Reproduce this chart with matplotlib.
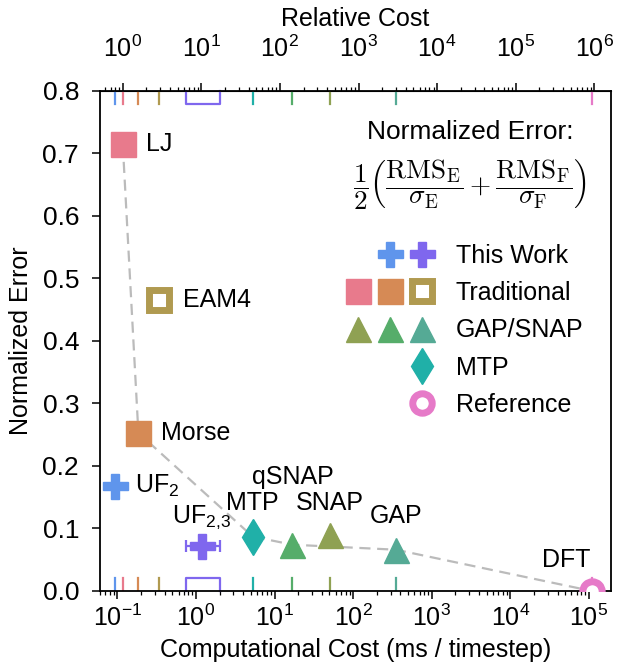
import matplotlib
matplotlib.use('Agg')
import numpy as np
import matplotlib.pyplot as plt
from matplotlib.lines import Line2D
from matplotlib.legend_handler import HandlerTuple
from matplotlib.ticker import FixedLocator, LogFormatterSciNotation, NullFormatter

plt.rcParams['font.family'] = ['Liberation Sans', 'DejaVu Sans']
plt.rcParams['mathtext.fontset'] = 'custom'
plt.rcParams['mathtext.rm'] = 'Liberation Sans'
plt.rcParams['mathtext.it'] = 'Liberation Sans:italic'
plt.rcParams['mathtext.bf'] = 'Liberation Sans:bold'

# ---------------- data ----------------
methods = ['UF2', 'UF23', 'LJ', 'Morse', 'EAM4', 'SNAP', 'qSNAP', 'GAP', 'MTP', 'DFT']
labels = [r'UF$_\mathrm{2}$', r'UF$_\mathrm{2{,}3}$', 'LJ', 'Morse', 'EAM4',
          'SNAP', 'qSNAP', 'GAP', 'MTP', 'DFT']
cost = [0.094, 1.18, 0.117, 0.185, 0.34, 50.7, 16.9, 350.0, 5.27, 1.08e5]
error = [0.168, 0.072, 0.715, 0.253, 0.466, 0.090, 0.074, 0.066, 0.087, 0.0]
uf23_cost_range = [0.755, 2.0]
pareto = ['LJ', 'Morse', 'MTP', 'qSNAP', 'GAP', 'DFT']
reference_method = 'LJ'

cost_decades = [1e-1, 1e0, 1e1, 1e2, 1e3, 1e4, 1e5]
rel_decades = [1e0, 1e1, 1e2, 1e3, 1e4, 1e5, 1e6]
error_ticks = [0.0, 0.1, 0.2, 0.3, 0.4, 0.5, 0.6, 0.7, 0.8]

legend_labels = ['This Work', 'Traditional', 'GAP/SNAP', 'MTP', 'Reference']
legend_groups = [['UF2', 'UF23'], ['LJ', 'Morse', 'EAM4'], ['SNAP', 'qSNAP', 'GAP'], ['MTP'], ['DFT']]

# ---------------- styles ----------------
colors = {'UF2': '#5f95ec', 'UF23': '#7f67ee', 'LJ': '#e87a8c', 'Morse': '#d68a55',
          'EAM4': '#b09a50', 'SNAP': '#8fa153', 'qSNAP': '#56ad6a', 'GAP': '#55aa95',
          'MTP': '#20b0a8', 'DFT': '#e67ac8'}
markers = {'UF2': 'P', 'UF23': 'P', 'LJ': 's', 'Morse': 's', 'EAM4': 's',
           'SNAP': '^', 'qSNAP': '^', 'GAP': '^', 'MTP': 'd', 'DFT': 'o'}
hollow = {'EAM4', 'DFT'}
# label offsets in points (dx, dy, ha, va)
offsets = {'UF2': (14, 0, 'left', 'center'), 'UF23': (0, 11, 'center', 'bottom'),
           'LJ': (17, 0, 'left', 'center'), 'Morse': (16, 0, 'left', 'center'),
           'EAM4': (17, 0, 'left', 'center'), 'SNAP': (0, 18, 'center', 'baseline'),
           'qSNAP': (0, 44, 'center', 'baseline'), 'GAP': (0, 19, 'center', 'baseline'),
           'MTP': (0, 19, 'center', 'baseline'), 'DFT': (-18, 17, 'center', 'baseline')}

FS = 18
XTICK_FS = 18
YTICK_FS = 19

def mstyle(m):
    c = colors[m]
    if m in hollow:
        return dict(marker=markers[m], ms=14, mfc='white', mec=c, mew=5, ls='none')
    return dict(marker=markers[m], ms=18, mfc=c, mec=c, mew=1, ls='none')

def minor_ticks(decades, lo, hi):
    vals = [d * s for d in [decades[0] / 10] + list(decades) for s in range(2, 10)]
    return [v for v in vals if lo <= v <= hi]

fig = plt.figure(figsize=(6.17, 6.67), dpi=100)
ax = fig.add_axes([0.162, 0.114, 0.828, 0.7496])
ax.set_xscale('log')
xlim = (0.06, 1.9e5)
ax.set_xlim(*xlim)
ax.set_ylim(0, 0.8)

idx = {m: i for i, m in enumerate(methods)}

# pareto line
ax.plot([cost[idx[m]] for m in pareto], [error[idx[m]] for m in pareto],
        color='#bbbbbb', lw=1.6, ls=(0, (5, 3)), zorder=1)

# error bar for UF2,3
i = idx['UF23']
ax.errorbar([cost[i]], [error[i]],
            xerr=[[cost[i] - uf23_cost_range[0]], [uf23_cost_range[1] - cost[i]]],
            fmt='none', ecolor=colors['UF23'], elinewidth=1.6, capsize=4.5, capthick=1.6, zorder=2)

# markers and labels
for m in methods:
    i = idx[m]
    ax.plot([cost[i]], [error[i]], zorder=3, **mstyle(m))
    dx, dy, ha, va = offsets[m]
    ax.annotate(labels[i], (cost[i], error[i]), xytext=(dx, dy), textcoords='offset points',
                ha=ha, va=va, fontsize=FS, zorder=4)

# rug marks
trans = ax.get_xaxis_transform()
h = 0.026
for m in methods:
    i = idx[m]
    if m == 'UF23':
        lo, hi = uf23_cost_range
        ax.plot([lo, lo, hi, hi], [0, h, h, 0], color=colors[m], lw=1.6, transform=trans,
                clip_on=False, zorder=2)
        ax.plot([lo, lo, hi, hi], [1, 1 - h, 1 - h, 1], color=colors[m], lw=1.6, transform=trans,
                clip_on=False, zorder=2)
    else:
        ax.plot([cost[i], cost[i]], [0, h], color=colors[m], lw=1.6, transform=trans, zorder=2)
        ax.plot([cost[i], cost[i]], [1 - h, 1], color=colors[m], lw=1.6, transform=trans, zorder=2)

# axes styling
for s in ax.spines.values():
    s.set_linewidth(1.3)
ax.xaxis.set_major_locator(FixedLocator(cost_decades))
ax.xaxis.set_major_formatter(LogFormatterSciNotation())
ax.xaxis.set_minor_locator(FixedLocator(minor_ticks(cost_decades, *xlim)))
ax.xaxis.set_minor_formatter(NullFormatter())
ax.tick_params(which='major', direction='out', length=6, width=1.1)
ax.tick_params(which='minor', direction='out', length=3.2, width=0.9)
ax.tick_params(axis='x', labelsize=XTICK_FS, pad=4)
ax.tick_params(axis='y', labelsize=YTICK_FS, pad=9)
ax.set_yticks(error_ticks)
ax.set_xlabel('Computational Cost (ms / timestep)', fontsize=FS, labelpad=5)
ax.set_ylabel('Normalized Error', fontsize=FS, labelpad=7)

c_ref = cost[idx[reference_method]]
rel_lim = (xlim[0] / c_ref, xlim[1] / c_ref)
sec = ax.secondary_xaxis('top', functions=(lambda x: x / c_ref, lambda x: x * c_ref))
sec.xaxis.set_major_locator(FixedLocator(rel_decades))
sec.xaxis.set_major_formatter(LogFormatterSciNotation())
sec.xaxis.set_minor_locator(FixedLocator(minor_ticks(rel_decades, *rel_lim)))
sec.xaxis.set_minor_formatter(NullFormatter())
sec.tick_params(which='major', direction='out', length=6, width=1.1, labelsize=XTICK_FS, pad=15)
sec.tick_params(which='minor', direction='out', length=3.2, width=0.9)
sec.set_xlabel('Relative Cost', fontsize=FS, labelpad=7)

# legend
ax.text(0.724, 0.918, 'Normalized Error:', transform=ax.transAxes, ha='center', va='center',
        fontsize=19)
ax.text(0.724, 0.812,
        r'$\dfrac{1}{2}\left(\dfrac{\mathrm{RMS}_\mathrm{E}}{\sigma_\mathrm{E}}+'
        r'\dfrac{\mathrm{RMS}_\mathrm{F}}{\sigma_\mathrm{F}}\right)$',
        transform=ax.transAxes, ha='center', va='center', fontsize=19.5, math_fontfamily='cm')

handles = []
for grp in legend_groups:
    hs = [Line2D([], [], ls='none', marker='None') for _ in range(3 - len(grp))]
    hs += [Line2D([], [], **mstyle(m)) for m in grp]
    handles.append(tuple(hs))
leg = ax.legend(handles, legend_labels, handler_map={tuple: HandlerTuple(ndivide=None, pad=0)},
                loc='upper left', bbox_to_anchor=(0.4736, 0.694), frameon=False, fontsize=FS,
                handlelength=3.84, handletextpad=0.72, labelspacing=0.53, borderpad=0,
                borderaxespad=0)

fig.savefig('out.png', dpi=100)
